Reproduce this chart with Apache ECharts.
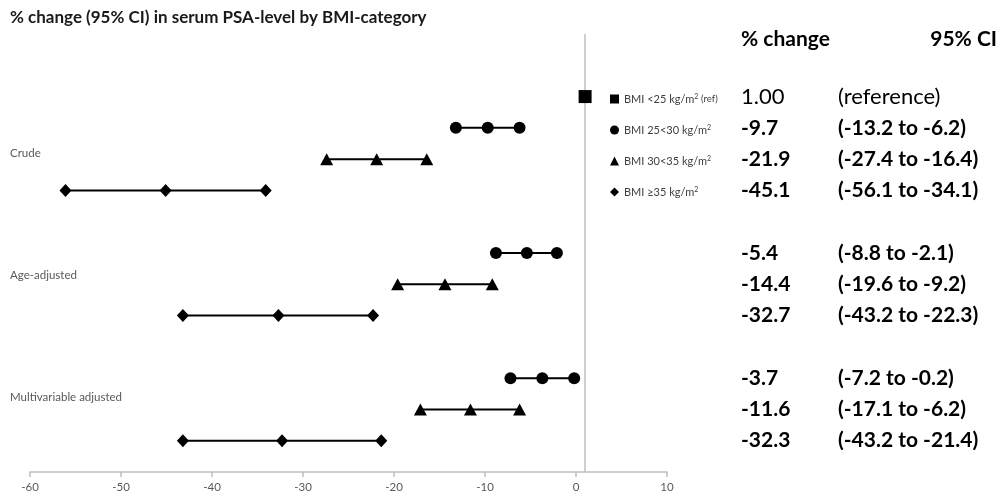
<!DOCTYPE html>
<html>
<head>
<meta charset="utf-8">
<script src="https://cdn.jsdelivr.net/npm/echarts@6/dist/echarts.min.js"></script>
<style>
  html, body { margin: 0; padding: 0; background: #fff; }
  #chart { width: 998px; height: 493px; }
</style>
</head>
<body>
<div id="chart"></div>
<script>
// Models (row groups) and BMI categories
const models = ['Crude', 'Age-adjusted', 'Multivariable adjusted'];
const bmiNames = ['BMI <25 kg/m2 (ref)', 'BMI 25<30 kg/m2', 'BMI 30<35 kg/m2', 'BMI \u226535 kg/m2'];
const bmiSymbols = ['rect', 'circle', 'triangle', 'diamond'];

// Reference category value
const refValue = 1.00;

// Estimates and 95% CI per model, for BMI 25<30, 30<35, >=35
const crudeEst = [-9.7, -21.9, -45.1];
const crudeLow = [-13.2, -27.4, -56.1];
const crudeHigh = [-6.2, -16.4, -34.1];

const ageEst = [-5.4, -14.4, -32.7];
const ageLow = [-8.8, -19.6, -43.2];
const ageHigh = [-2.1, -9.2, -22.3];

const multiEst = [-3.7, -11.6, -32.3];
const multiLow = [-7.2, -17.1, -43.2];
const multiHigh = [-0.2, -6.2, -21.4];

// Vertical slots on the y scale (top row is the reference category)
const refRow = 12;
const modelRows = [[11, 10, 9], [7, 6, 5], [3, 2, 1]];
const modelLabelRows = [10.2, 6.3, 2.4];

const xTicks = { min: -60, max: 10, step: 10 };

const estimates = [crudeEst, ageEst, multiEst];
const lows = [crudeLow, ageLow, multiLow];
const highs = [crudeHigh, ageHigh, multiHigh];

const FONT = 'Lato, "Open Sans", sans-serif';

const series = [];
// Vertical reference line at the reference category's value
series.push({
  name: 'refline',
  type: 'line',
  data: [],
  silent: true,
  z: 1,
  markLine: {
    silent: true,
    symbol: 'none',
    label: { show: false },
    lineStyle: { color: '#bfbfbf', width: 1.5, type: 'solid' },
    data: [{ xAxis: refValue }]
  }
});
series.push({
  name: bmiNames[0],
  type: 'scatter',
  symbol: 'rect',
  symbolSize: 13,
  itemStyle: { color: '#000', opacity: 1 },
  data: [[refValue, refRow]],
  z: 5
});
models.forEach((m, mi) => {
  for (let b = 0; b < 3; b++) {
    const row = modelRows[mi][b];
    series.push({
      name: bmiNames[b + 1],
      type: 'line',
      symbol: bmiSymbols[b + 1],
      symbolSize: b === 1 ? [13, 12] : (b === 2 ? [12, 13] : 12),
      showAllSymbol: true,
      lineStyle: { color: '#000', width: 2 },
      itemStyle: { color: '#000', opacity: 1 },
      data: [[lows[mi][b], row], [estimates[mi][b], row], [highs[mi][b], row]],
      z: 3
    });
  }
});

const chart = echarts.init(document.getElementById('chart'));
const option = {
  animation: false,
  backgroundColor: '#fff',
  grid: { left: 30, right: 331, top: 34, bottom: 21 },
  xAxis: {
    type: 'value',
    min: xTicks.min,
    max: xTicks.max,
    interval: xTicks.step,
    axisLine: { show: true, onZero: false, lineStyle: { color: '#bfbfbf', width: 1.5 } },
    axisTick: { show: true, length: 5, lineStyle: { color: '#bfbfbf', width: 1.5 } },
    axisLabel: { color: '#595959', fontSize: 11.5, fontFamily: FONT, margin: 9 },
    splitLine: { show: false }
  },
  yAxis: {
    type: 'value',
    min: 0,
    max: 14,
    show: false,
    splitLine: { show: false }
  },
  legend: {
    orient: 'vertical',
    left: 605,
    top: 88,
    itemWidth: 9,
    itemHeight: 9,
    itemGap: 19.5,
    selectedMode: false,
    data: bmiNames.map((n, i) => ({ name: n, icon: bmiSymbols[i], itemStyle: { color: '#000', opacity: 1 } })),
    formatter: n => n.replace('m2', 'm{sup|2}').replace('(ref)', '{ref|(ref)}'),
    textStyle: {
      color: '#404040',
      fontSize: 11,
      fontFamily: FONT,
      rich: {
        sup: { fontSize: 7, verticalAlign: 'top', color: '#404040', fontFamily: FONT, padding: [0, 0, 5, 0] },
        ref: { fontSize: 9.5, color: '#404040', fontFamily: FONT }
      }
    }
  },
  series: series
};
chart.setOption(option);

// Titles, model labels and the value table, placed on the chart's own y scale
const yPix = r => chart.convertToPixel({ gridIndex: 0 }, [0, r])[1];
const graphic = [];
graphic.push({
  type: 'text', left: 10, top: 9,
  style: { text: '% change (95% CI) in serum PSA-level by BMI-category', font: 'bold 17px ' + FONT, fill: '#1a1a1a' }
});
models.forEach((m, mi) => {
  graphic.push({
    type: 'text', x: 10, y: yPix(modelLabelRows[mi]),
    style: { text: m, font: '11.5px ' + FONT, fill: '#595959', verticalAlign: 'middle' }
  });
});
graphic.push({
  type: 'text', x: 741, y: 39,
  style: { text: '% change', font: 'bold 21px ' + FONT, fill: '#000', verticalAlign: 'middle' }
});
graphic.push({
  type: 'text', x: 997, y: 39,
  style: { text: '95% CI', font: 'bold 21px ' + FONT, fill: '#000', verticalAlign: 'middle', align: 'right' }
});
graphic.push({
  type: 'text', x: 741, y: yPix(refRow),
  style: { text: refValue.toFixed(2), font: '22px ' + FONT, fill: '#000', verticalAlign: 'middle' }
});
graphic.push({
  type: 'text', x: 838, y: yPix(refRow),
  style: { text: '(reference)', font: '22px ' + FONT, fill: '#000', verticalAlign: 'middle' }
});
models.forEach((m, mi) => {
  for (let b = 0; b < 3; b++) {
    const y = yPix(modelRows[mi][b]);
    graphic.push({
      type: 'text', x: 741, y: y,
      style: { text: estimates[mi][b].toFixed(1), font: 'bold 21px ' + FONT, fill: '#000', verticalAlign: 'middle' }
    });
    graphic.push({
      type: 'text', x: 838, y: y,
      style: {
        text: '(' + lows[mi][b].toFixed(1) + ' to ' + highs[mi][b].toFixed(1) + ')',
        font: 'bold 21px ' + FONT, fill: '#000', verticalAlign: 'middle'
      }
    });
  }
});
chart.setOption({ graphic: graphic });
</script>
</body>
</html>
